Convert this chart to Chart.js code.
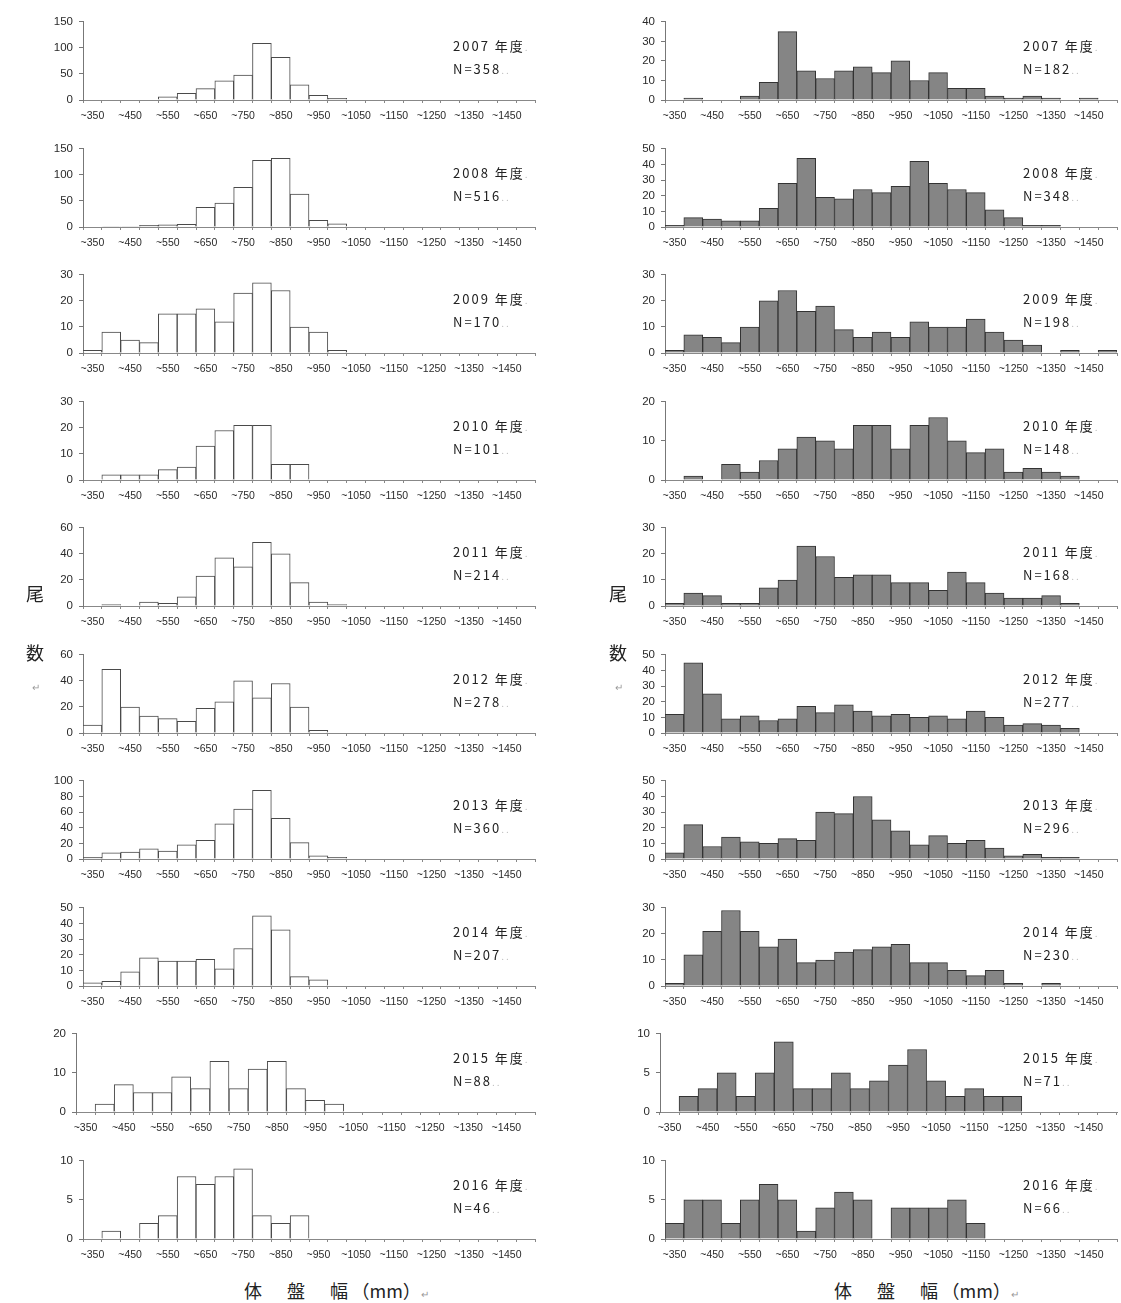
<!DOCTYPE html>
<html>
<head>
<meta charset="utf-8">
<script src="https://cdn.jsdelivr.net/npm/chart.js@4"></script>
<style>
body{margin:0;background:#fff;width:1121px;height:1303px;position:relative;overflow:hidden;font-family:"Noto Sans CJK JP","Noto Sans",sans-serif}
.box{position:absolute}
.lab{position:absolute;font-size:13px;color:#222;line-height:16px;white-space:nowrap;letter-spacing:2px}
.mark{color:#bbb;font-size:10px}
.big{position:absolute;font-size:18px;color:#222;white-space:nowrap}
.sp{letter-spacing:3.5px}
</style>
</head>
<body>
<script>
// size classes (mm), 50mm bins
const sizeBins=['~350','~400','~450','~500','~550','~600','~650','~700','~750','~800','~850','~900',
  '~950','~1000','~1050','~1100','~1150','~1200','~1250','~1300','~1350','~1400','~1450','~1500']
const years=[2007,2008,2009,2010,2011,2012,2013,2014,2015,2016]
const nLeft=[358,516,170,101,214,278,360,207,88,46]
const nRight=[182,348,198,148,168,277,296,230,71,66]

// left column (white bars)
const left2007=[0,0,0,0,6,13,22,37,48,109,82,29,9,3,0,0,0,0,0,0,0,0,0,0]
const left2008=[0,1,1,3,4,5,38,46,76,128,132,63,13,6,0,0,0,0,0,0,0,0,0,0]
const left2009=[1,8,5,4,15,15,17,12,23,27,24,10,8,1,0,0,0,0,0,0,0,0,0,0]
const left2010=[0,2,2,2,4,5,13,19,21,21,6,6,0,0,0,0,0,0,0,0,0,0,0,0]
const left2011=[0,1,0,3,2,7,23,37,30,49,40,18,3,1,0,0,0,0,0,0,0,0,0,0]
const left2012=[6,49,20,13,11,9,19,24,40,27,38,20,2,0,0,0,0,0,0,0,0,0,0,0]
const left2013=[2,8,9,13,10,18,24,45,64,88,52,21,4,2,0,0,0,0,0,0,0,0,0,0]
const left2014=[2,3,9,18,16,16,17,11,24,45,36,6,4,0,0,0,0,0,0,0,0,0,0,0]
const left2015=[0,2,7,5,5,9,6,13,6,11,13,6,3,2,0,0,0,0,0,0,0,0,0,0]
const left2016=[0,1,0,2,3,8,7,8,9,3,2,3,0,0,0,0,0,0,0,0,0,0,0,0]

// right column (grey bars)
const right2007=[0,1,0,0,2,9,35,15,11,15,17,14,20,10,14,6,6,2,1,2,1,0,1,0]
const right2008=[1,6,5,4,4,12,28,44,19,18,24,22,26,42,28,24,22,11,6,1,1,0,0,0]
const right2009=[1,7,6,4,10,20,24,16,18,9,6,8,6,12,10,10,13,8,5,3,0,1,0,1]
const right2010=[0,1,0,4,2,5,8,11,10,8,14,14,8,14,16,10,7,8,2,3,2,1,0,0]
const right2011=[1,5,4,1,1,7,10,23,19,11,12,12,9,9,6,13,9,5,3,3,4,1,0,0]
const right2012=[12,45,25,9,11,8,9,17,13,18,14,11,12,10,11,9,14,10,5,6,5,3,0,0]
const right2013=[4,22,8,14,11,10,13,12,30,29,40,25,18,9,15,10,12,7,2,3,1,1,0,0]
const right2014=[1,12,21,29,21,15,18,9,10,13,14,15,16,9,9,6,4,6,1,0,1,0,0,0]
const right2015=[0,2,3,5,2,5,9,3,3,5,3,4,6,8,4,2,3,2,2,0,0,0,0,0]
const right2016=[2,5,5,2,5,7,5,1,4,6,5,0,4,4,4,5,2,0,0,0,0,0,0,0]

const leftMax=[150,150,30,30,60,60,100,50,20,10]
const leftStep=[50,50,10,10,20,20,20,10,10,5]
const rightMax=[40,50,30,20,30,50,50,30,10,10]
const rightStep=[10,10,10,10,10,10,10,10,5,5]

const leftCounts=[left2007,left2008,left2009,left2010,left2011,left2012,left2013,left2014,left2015,left2016]
const rightCounts=[right2007,right2008,right2009,right2010,right2011,right2012,right2013,right2014,right2015,right2016]

function addDiv(cls,x,y,html){
  let d=document.createElement('div')
  d.className=cls
  d.style.left=x+'px'
  d.style.top=y+'px'
  d.innerHTML=html
  document.body.appendChild(d)
  return d
}

function makePanel(col,row,data,max,step){
  let aLeft=col==0?83:665
  if(row==8) aLeft=col==0?76:660
  let aRight=col==0?535:1117
  let aTop=17+126.5*row
  let aH=83
  let box=document.createElement('div')
  box.className='box'
  let w=aRight-aLeft+50+4
  let h=8+aH+28
  box.style.left=(aLeft-50)+'px'
  box.style.top=(aTop-8)+'px'
  box.style.width=w+'px'
  box.style.height=h+'px'
  let cv=document.createElement('canvas')
  cv.width=w
  cv.height=h
  box.appendChild(cv)
  document.body.appendChild(box)

  new Chart(cv.getContext('2d'),{
    type:'bar',
    data:{
      labels:sizeBins,
      datasets:[{
        data:data,
        backgroundColor:col==0?'#ffffff':'#858585',
        borderColor:col==0?'#4a4a4a':'#333333',
        borderWidth:1,
        barPercentage:1,
        categoryPercentage:1
      }]
    },
    options:{
      responsive:false,
      animation:false,
      devicePixelRatio:1,
      layout:{padding:{top:8,right:4,left:0,bottom:0}},
      plugins:{legend:{display:false},tooltip:{enabled:false}},
      scales:{
        x:{
          afterFit:s=>{s.height=28},
          grid:{drawOnChartArea:false,offset:true,tickLength:3,color:'#888'},
          border:{color:'#888'},
          ticks:{
            autoSkip:false,maxRotation:0,minRotation:0,padding:7,color:'#2a2a2a',
            font:{family:'Liberation Sans',size:10.5},
            callback:(v,i)=>i%2==0?sizeBins[i]:''
          }
        },
        y:{
          min:0,max:max,
          afterFit:s=>{s.width=50},
          grid:{drawOnChartArea:false,tickLength:4,color:'#777'},
          border:{color:'#777'},
          ticks:{stepSize:step,autoSkip:false,padding:6,color:'#2a2a2a',font:{family:'Liberation Sans',size:11.5}}
        }
      }
    }
  })

  let tx=col==0?453:1023
  addDiv('lab',tx,aTop+21,years[row]+' 年度<span class="mark">.</span>')
  addDiv('lab',tx,aTop+44,'N='+(col==0?nLeft[row]:nRight[row])+'<span class="mark">..</span>')
}

for(let r=0;r<10;r++){
  makePanel(0,r,leftCounts[r],leftMax[r],leftStep[r])
  makePanel(1,r,rightCounts[r],rightMax[r],rightStep[r])
}

// axis titles
addDiv('big',26,580,'尾')
addDiv('big',26,639,'数')
addDiv('big',32,670,'<span style="font-size:10px;color:#999">↵</span>')
addDiv('big',609,580,'尾')
addDiv('big',609,639,'数')
addDiv('big',615,670,'<span style="font-size:10px;color:#999">↵</span>')
addDiv('big',244,1277,'<span class="sp">体　盤　幅</span>（mm）<span style="font-size:10px;color:#999">↵</span>')
addDiv('big',834,1277,'<span class="sp">体　盤　幅</span>（mm）<span style="font-size:10px;color:#999">↵</span>')
</script>
</body>
</html>
